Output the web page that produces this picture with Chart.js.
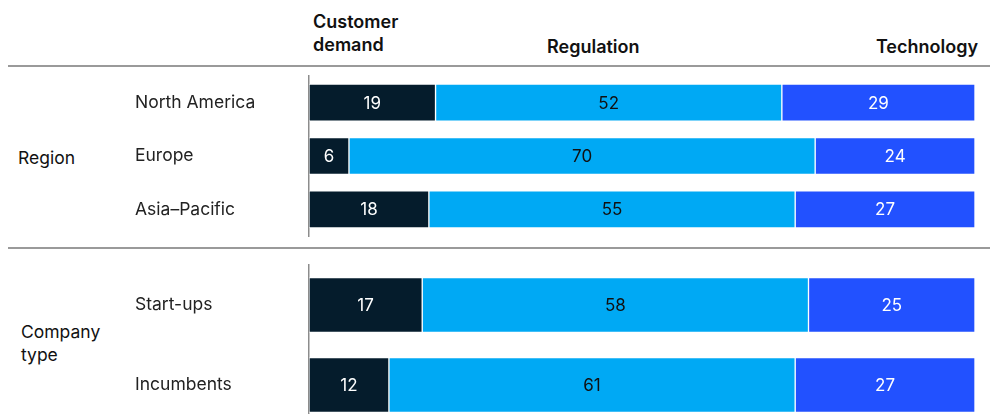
<!DOCTYPE html>
<html>
<head>
<meta charset="utf-8">
<script src="https://cdn.jsdelivr.net/npm/chart.js@4.4.1/dist/chart.umd.min.js"></script>
<style>
  html, body { margin: 0; padding: 0; background: #fff; overflow: hidden; }
  body { width: 990px; height: 414px; position: relative; font-family: Inter, "Liberation Sans", Arial, sans-serif; color: #111; }
  canvas { position: absolute; left: 0; }
  .rule { position: absolute; left: 8px; right: 0; height: 2px; background: #9a9a9a; }
  .txt { position: absolute; font-size: 17.5px; line-height: 23px; white-space: nowrap; }
  .head { font-weight: 600; font-size: 18px; }
</style>
</head>
<body>
<div class="txt head" style="left:313px; top:10px;">Customer<br>demand</div>
<div class="txt head" style="left:547px; top:35px;">Regulation</div>
<div class="txt head" style="right:12px; top:35px;">Technology</div>
<div class="rule" style="top:65px;"></div>
<div class="txt" style="left:18px; top:146px;">Region</div>
<div class="rule" style="top:247px;"></div>
<div class="txt" style="left:21px; top:320px;">Company<br>type</div>
<canvas id="regionChart" width="990" height="248" style="top:0;"></canvas>
<canvas id="companyChart" width="990" height="180" style="top:248px;"></canvas>
<script>
// Data
const seriesNames = ["Customer demand", "Regulation", "Technology"];

const regionLabels = ["North America", "Europe", "Asia\u2013Pacific"];
const regionDemand = [19, 6, 18];
const regionRegulation = [52, 70, 55];
const regionTechnology = [29, 24, 27];

const companyLabels = ["Start-ups", "Incumbents"];
const companyDemand = [17, 12];
const companyRegulation = [58, 61];
const companyTechnology = [25, 27];

const barColors = ["#051c2c", "#00a9f4", "#2251ff"];
const valueColors = ["#ffffff", "#111111", "#ffffff"];

const fontFamily = 'Inter, "Liberation Sans", Arial, sans-serif';
Chart.defaults.font.family = fontFamily;

// Writes the value in the middle of each bar segment
const valueLabels = {
  id: "valueLabels",
  afterDatasetsDraw: function (chart) {
    const ctx = chart.ctx;
    ctx.save();
    ctx.font = "17px " + fontFamily;
    ctx.textAlign = "center";
    ctx.textBaseline = "middle";
    chart.data.datasets.forEach(function (ds, i) {
      chart.getDatasetMeta(i).data.forEach(function (bar, j) {
        const c = bar.getCenterPoint();
        ctx.fillStyle = valueColors[i];
        ctx.fillText(String(ds.data[j]), c.x, c.y + 1);
      });
    });
    ctx.restore();
  },
};

function makeChart(id, labels, values, thickness, padTop, padBottom) {
  return new Chart(document.getElementById(id), {
    type: "bar",
    data: {
      labels: labels,
      datasets: values.map(function (v, i) {
        return {
          label: seriesNames[i],
          data: v,
          backgroundColor: barColors[i],
          borderColor: "rgba(255,255,255,0.6)",
          borderWidth: 1,
          borderSkipped: false,
          barThickness: thickness,
        };
      }),
    },
    options: {
      indexAxis: "y",
      responsive: false,
      animation: false,
      devicePixelRatio: 1,
      layout: {
        padding: { top: padTop, bottom: padBottom, left: 135, right: 15 },
      },
      scales: {
        x: { stacked: true, min: 0, max: 100, display: false },
        y: {
          stacked: true,
          grid: { display: false },
          border: { display: true, color: "#8c8c8c", width: 1.5 },
          ticks: {
            crossAlign: "far",
            color: "#222",
            font: { size: 17.5 },
          },
          afterFit: function (scale) {
            scale.width = 174;
            // don't let the label heights eat into the layout padding
            scale.paddingTop = 0;
            scale.paddingBottom = 0;
          },
        },
      },
      plugins: {
        legend: { display: false },
        tooltip: { enabled: false },
      },
    },
    plugins: [valueLabels],
  });
}

makeChart("regionChart", regionLabels,
  [regionDemand, regionRegulation, regionTechnology], 37, 76, 12);
// bottom block runs past the lower edge of the picture
makeChart("companyChart", companyLabels,
  [companyDemand, companyRegulation, companyTechnology], 55, 17, 3);
</script>
</body>
</html>
